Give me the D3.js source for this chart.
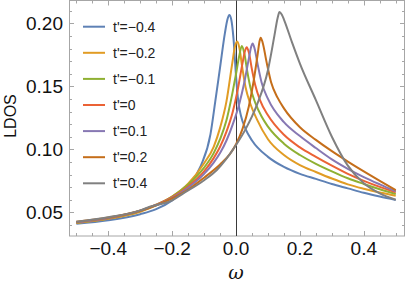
<!DOCTYPE html>
<html>
<head>
<meta charset="utf-8">
<script src="https://cdn.jsdelivr.net/npm/d3@7"></script>
<style>
  body { margin: 0; background: #fff; }
  svg { display: block; }
</style>
</head>
<body>
<div class="canvas"></div>
<script>
// series names (legend order)
const labels = ["t'=\u22120.4", "t'=\u22120.2", "t'=\u22120.1", "t'=0", "t'=0.1", "t'=0.2", "t'=0.4"];
const colors = ['#5e81b5', '#e19c24', '#8fb032', '#eb6235', '#8778b3', '#c56e1a', '#808080'];

// [omega, LDOS]
const tm04 = [[-0.5,0.0410],[-0.4,0.0437],[-0.3,0.0485],[-0.25,0.0525],[-0.2,0.0595],[-0.15,0.0712],[-0.11,0.087],[-0.08,0.112],[-0.065,0.138],[-0.05,0.165],[-0.035,0.192],[-0.027,0.203],[-0.021,0.2065],[-0.015,0.203],[-0.008,0.188],[0,0.158],[0.007,0.138],[0.015,0.127],[0.03,0.116],[0.05,0.107],[0.1,0.094],[0.15,0.086],[0.2,0.0805],[0.25,0.0765],[0.3,0.0725],[0.35,0.069],[0.4,0.0655],[0.45,0.0625],[0.5,0.0598]];
const tm02 = [[-0.5,0.0415],[-0.4,0.0448],[-0.3,0.0505],[-0.25,0.0555],[-0.2,0.0625],[-0.15,0.0728],[-0.1,0.089],[-0.07,0.102],[-0.05,0.117],[-0.03,0.138],[-0.012,0.168],[-0.003,0.182],[0.004,0.1855],[0.01,0.181],[0.02,0.164],[0.03,0.149],[0.045,0.136],[0.065,0.124],[0.1,0.108],[0.15,0.0955],[0.2,0.0875],[0.25,0.082],[0.3,0.0768],[0.35,0.0722],[0.4,0.0687],[0.45,0.0657],[0.5,0.0632]];
const tm01 = [[-0.5,0.0418],[-0.4,0.045],[-0.3,0.051],[-0.25,0.056],[-0.2,0.0625],[-0.15,0.072],[-0.1,0.0855],[-0.07,0.097],[-0.05,0.108],[-0.03,0.123],[-0.015,0.14],[0,0.16],[0.01,0.174],[0.018,0.182],[0.026,0.176],[0.035,0.162],[0.045,0.149],[0.06,0.137],[0.08,0.126],[0.1,0.118],[0.15,0.1045],[0.2,0.0955],[0.25,0.0885],[0.3,0.0825],[0.35,0.077],[0.4,0.0725],[0.45,0.0683],[0.5,0.0645]];
const t0 = [[-0.5,0.042],[-0.4,0.0452],[-0.3,0.0512],[-0.25,0.056],[-0.2,0.062],[-0.15,0.0705],[-0.1,0.0825],[-0.07,0.093],[-0.05,0.102],[-0.03,0.114],[-0.01,0.13],[0.005,0.147],[0.02,0.168],[0.028,0.178],[0.0335,0.181],[0.04,0.177],[0.05,0.163],[0.06,0.151],[0.075,0.139],[0.1,0.127],[0.15,0.1115],[0.2,0.1015],[0.25,0.094],[0.3,0.087],[0.35,0.0805],[0.4,0.075],[0.45,0.0702],[0.5,0.0659]];
const tp01 = [[-0.5,0.0422],[-0.4,0.0455],[-0.3,0.0512],[-0.25,0.0558],[-0.2,0.0615],[-0.15,0.0695],[-0.1,0.0805],[-0.07,0.0895],[-0.05,0.097],[-0.03,0.107],[-0.01,0.12],[0.01,0.136],[0.025,0.152],[0.04,0.172],[0.047,0.181],[0.052,0.184],[0.058,0.18],[0.068,0.167],[0.08,0.153],[0.1,0.14],[0.15,0.1215],[0.2,0.1105],[0.25,0.101],[0.3,0.092],[0.35,0.0845],[0.4,0.078],[0.45,0.0722],[0.5,0.0667]];
const tp02 = [[-0.5,0.0425],[-0.4,0.0458],[-0.3,0.0512],[-0.25,0.0555],[-0.2,0.061],[-0.15,0.068],[-0.1,0.0775],[-0.05,0.088],[-0.02,0.096],[0,0.104],[0.02,0.116],[0.04,0.134],[0.055,0.154],[0.068,0.176],[0.073,0.185],[0.077,0.1886],[0.083,0.185],[0.095,0.17],[0.11,0.153],[0.13,0.141],[0.15,0.1325],[0.2,0.1175],[0.25,0.1075],[0.3,0.0985],[0.35,0.0903],[0.4,0.0825],[0.45,0.075],[0.5,0.0677]];
const tp04 = [[-0.5,0.0425],[-0.4,0.046],[-0.3,0.0515],[-0.27,0.0544],[-0.2,0.0595],[-0.165,0.065],[-0.1,0.0755],[-0.06,0.0836],[0,0.1034],[0.03,0.116],[0.065,0.135],[0.1,0.163],[0.12,0.19],[0.13,0.204],[0.136,0.209],[0.143,0.207],[0.15,0.203],[0.175,0.185],[0.2,0.168],[0.25,0.139],[0.3,0.11],[0.35,0.087],[0.4,0.073],[0.45,0.065],[0.5,0.060]];

const series = [tm04, tm02, tm01, t0, tp01, tp02, tp04];

const xTicks = [-0.4, -0.2, 0.0, 0.2, 0.4];
const yTicks = [0.05, 0.10, 0.15, 0.20];

const dims = { width: 407, height: 283 };
const frame = { left: 69, right: 405, top: 0.5, bottom: 236 };

const svg = d3.select('.canvas')
    .append('svg')
    .attr('width', dims.width)
    .attr('height', dims.height);

const x = d3.scaleLinear().domain([-0.523, 0.529]).range([frame.left, frame.right]);
const y = d3.scaleLinear().domain([0.0312, 0.2181]).range([frame.bottom, frame.top]);

const fmtMinus = s => s.replace('-', '\u2212');

//frame ticks (inside), major + minor, on all four sides
const frameColor = '#a6a6a6';
const ticks = svg.append('g').attr('stroke', frameColor).attr('stroke-width', 1);

const xMinor = d3.range(-0.5, 0.5001, 0.05).map(v => +v.toFixed(2));
xMinor.forEach(v => {
    const major = xTicks.some(t => Math.abs(t - v) < 1e-6);
    const len = major ? 5 : 3;
    const px = Math.round(x(v)) + 0.5;
    ticks.append('line').attr('x1', px).attr('x2', px).attr('y1', frame.bottom).attr('y2', frame.bottom - len);
    ticks.append('line').attr('x1', px).attr('x2', px).attr('y1', frame.top).attr('y2', frame.top + len);
});

const yMinor = d3.range(0.04, 0.2101, 0.01).map(v => +v.toFixed(2));
yMinor.forEach(v => {
    const major = yTicks.some(t => Math.abs(t - v) < 1e-6);
    const len = major ? 5 : 3;
    const py = Math.round(y(v)) + 0.5;
    ticks.append('line').attr('x1', frame.left).attr('x2', frame.left + len).attr('y1', py).attr('y2', py);
    ticks.append('line').attr('x1', frame.right).attr('x2', frame.right - len).attr('y1', py).attr('y2', py);
});

//frame box
svg.append('rect')
    .attr('x', frame.left + 0.5)
    .attr('y', frame.top)
    .attr('width', frame.right - frame.left - 1)
    .attr('height', frame.bottom - frame.top)
    .attr('fill', 'none')
    .attr('stroke', frameColor);

//tick labels
const tickFont = '"Liberation Sans", Arial, sans-serif';
svg.append('g').selectAll('text')
    .data(xTicks)
    .enter().append('text')
    .attr('x', d => x(d))
    .attr('y', 255)
    .attr('text-anchor', 'middle')
    .attr('font-family', tickFont)
    .attr('font-size', 19)
    .attr('fill', '#111')
    .text(d => fmtMinus(d3.format('.1f')(d)));

svg.append('g').selectAll('text')
    .data(yTicks)
    .enter().append('text')
    .attr('x', 63)
    .attr('y', d => y(d) + 6.8)
    .attr('text-anchor', 'end')
    .attr('font-family', tickFont)
    .attr('font-size', 19)
    .attr('fill', '#111')
    .text(d => d3.format('.2f')(d));

//axis labels
svg.append('text')
    .attr('transform', 'translate(16, 116) rotate(-90)')
    .attr('text-anchor', 'middle')
    .attr('font-family', tickFont)
    .attr('font-size', 16)
    .attr('fill', '#111')
    .text('LDOS');

svg.append('text')
    .attr('x', x(0))
    .attr('y', 279)
    .attr('text-anchor', 'middle')
    .attr('font-family', '"DejaVu Serif", "Liberation Serif", serif')
    .attr('font-style', 'italic')
    .attr('font-size', 19)
    .attr('fill', '#111')
    .text('\u03c9');

//vertical line at omega = 0
svg.append('line')
    .attr('x1', Math.round(x(0)) + 0.5).attr('x2', Math.round(x(0)) + 0.5)
    .attr('y1', frame.top).attr('y2', frame.bottom)
    .attr('stroke', '#3a3a3a')
    .attr('stroke-width', 1);

//curves
const line = d3.line()
    .x(d => x(d[0]))
    .y(d => y(d[1]))
    .curve(d3.curveMonotoneX);

svg.append('g').selectAll('path')
    .data(series)
    .enter().append('path')
    .attr('d', line)
    .attr('fill', 'none')
    .attr('stroke', (d, i) => colors[i])
    .attr('stroke-width', 2)
    .attr('stroke-linejoin', 'round');

//legend
const legend = svg.append('g').attr('transform', 'translate(83, 26.7)');
const rows = legend.selectAll('g')
    .data(labels)
    .enter().append('g')
    .attr('transform', (d, i) => `translate(0, ${i * 26.1})`);

rows.append('line')
    .attr('x1', 0).attr('x2', 22)
    .attr('stroke', (d, i) => colors[i])
    .attr('stroke-width', 2);

rows.append('text')
    .attr('x', 30)
    .attr('y', 5)
    .attr('font-family', tickFont)
    .attr('font-size', 14)
    .attr('fill', '#222')
    .text(d => d);
</script>
</body>
</html>
